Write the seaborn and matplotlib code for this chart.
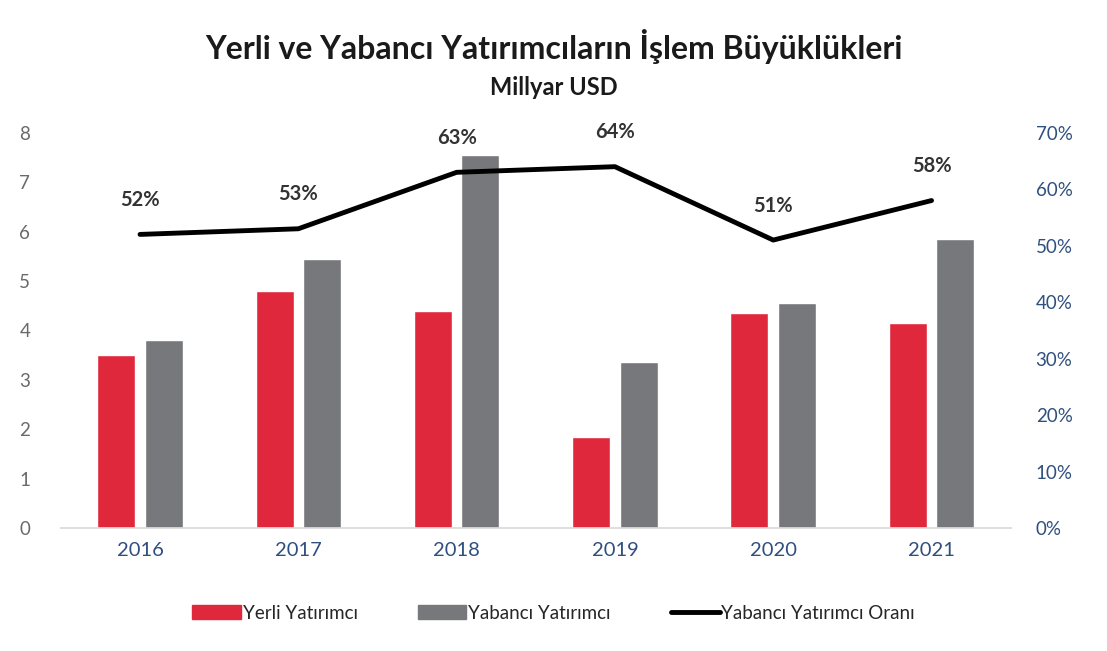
import pandas as pd
import numpy as np
import matplotlib
matplotlib.use("Agg")
import matplotlib.pyplot as plt
import seaborn as sns
from matplotlib.ticker import PercentFormatter
from matplotlib.patches import Patch
from matplotlib.lines import Line2D

# Veriler
yillar = ['2016', '2017', '2018', '2019', '2020', '2021']
yerli = [3.5, 4.8, 4.4, 1.85, 4.35, 4.15]
yabanci = [3.8, 5.45, 7.55, 3.35, 4.55, 5.85]
oran = [52, 53, 63, 64, 51, 58]

sns.set_theme(style="white")
plt.rcParams['font.family'] = ['Lato', 'DejaVu Sans']

df = pd.DataFrame({'Yil': yillar * 2,
                   'Deger': yerli + yabanci,
                   'Tip': ['Yerli Yatırımcı'] * 6 + ['Yabancı Yatırımcı'] * 6})

fig = plt.figure(figsize=(11.07, 6.51), dpi=100)
ax1 = fig.add_axes([0.055, 0.189, 0.858, 0.607])

renkler = {'Yerli Yatırımcı': '#e0283c', 'Yabancı Yatırımcı': '#76787b'}
sns.barplot(data=df, x='Yil', y='Deger', hue='Tip', palette=renkler,
            width=0.6, gap=0.2, ax=ax1, legend=False, saturation=1)

ax1.set_ylim(0, 8)
ax1.set_xlim(-0.5, 5.5)
ax1.set_yticks(range(0, 9))
ax1.set_xlabel('')
ax1.set_ylabel('')
ax1.tick_params(axis='y', colors='#6a6a6a', labelsize=13.5, length=0, pad=22)
ax1.tick_params(axis='x', colors='#2f4f7f', labelsize=14.5, length=0, pad=10)
for s in ['top', 'right', 'left']:
    ax1.spines[s].set_visible(False)
ax1.spines['bottom'].set_color('#d9d9d9')

# İkinci eksen: oran
ax2 = ax1.twinx()
sns.lineplot(x=np.arange(len(yillar)), y=oran, color='black', linewidth=3.5, ax=ax2)
ax2.set_ylim(0, 70)
ax2.set_yticks(range(0, 71, 10))
ax2.yaxis.set_major_formatter(PercentFormatter(decimals=0))
ax2.tick_params(axis='y', colors='#2f4f7f', labelsize=13.5, length=0, pad=18)
for s in ['top', 'right', 'left', 'bottom']:
    ax2.spines[s].set_visible(False)

for i, v in enumerate(oran):
    ax2.text(i, v + 4.3, f'{v}%', ha='center', va='bottom', fontsize=14.5,
             fontweight='bold', color='#333333')

fig.text(0.5, 0.928, 'Yerli ve Yabancı Yatırımcıların İşlem Büyüklükleri',
         ha='center', va='center', fontsize=23, fontweight='bold', color='#1a1a1a')
fig.text(0.5, 0.866, 'Millyar USD', ha='center', va='center', fontsize=17,
         fontweight='bold', color='#1a1a1a')

handles = [Patch(color=renkler['Yerli Yatırımcı']),
           Patch(color=renkler['Yabancı Yatırımcı']),
           Line2D([0], [0], color='black', linewidth=3.5)]
fig.legend(handles, ['Yerli Yatırımcı', 'Yabancı Yatırımcı', 'Yabancı Yatırımcı Oranı'],
           loc='center', bbox_to_anchor=(0.5, 0.058), ncol=3, frameon=False,
           fontsize=13.5, handlelength=2.6, handleheight=0.8, handletextpad=0.1,
           columnspacing=3.2)

plt.savefig('out.png', dpi=100)
